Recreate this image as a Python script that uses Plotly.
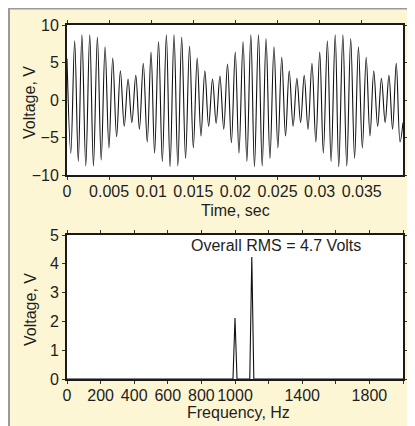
import plotly.graph_objects as go

# ---- data ----
time_s = [
    0.0, 0.00045, 0.00091, 0.00134, 0.00177, 0.00223, 0.00270, 0.00314, 0.00361, 0.00406,
    0.00452, 0.00498, 0.00543, 0.00589, 0.00634, 0.00680, 0.00725, 0.00770, 0.00817, 0.00860,
    0.00906, 0.00953,
    0.00998, 0.01040, 0.01087, 0.01132, 0.01180, 0.01224, 0.01271, 0.01316, 0.01362, 0.01408,
    0.01455, 0.01500, 0.01546, 0.01591, 0.01637, 0.01682, 0.01728, 0.01771, 0.01816, 0.01861,
    0.01906, 0.01952,
    0.01998, 0.02042, 0.02091, 0.02136, 0.02183, 0.02226, 0.02274, 0.02318, 0.02364, 0.02410,
    0.02458, 0.02504, 0.02550, 0.02595, 0.02639, 0.02685, 0.02730, 0.02774, 0.02817, 0.02862,
    0.02909, 0.02955,
    0.03001, 0.03044, 0.03092, 0.03136, 0.03185, 0.03227, 0.03276, 0.03322, 0.03369, 0.03415,
    0.03461, 0.03507, 0.03553, 0.03598, 0.03643, 0.03689, 0.03734, 0.03778, 0.03823, 0.03866,
    0.03910, 0.03955, 0.03990,
]
voltage_v = [
    5.5, -7.1, 7.9, -8.2, 8.7, -8.8, 8.7, -8.8, 8.4, -8.0,
    7.1, -6.4, 5.6, -4.9, 3.9, -3.5, 2.8, -3.0, 3.3, -3.9,
    4.9, -5.6,
    6.4, -7.1, 7.8, -8.2, 8.7, -8.9, 8.7, -8.8, 8.4, -7.8,
    7.2, -6.4, 5.6, -4.8, 3.9, -3.5, 2.8, -3.1, 3.2, -3.9,
    4.8, -5.7,
    6.4, -7.1, 7.8, -8.2, 8.7, -8.9, 8.7, -8.8, 8.2, -7.8,
    7.1, -6.4, 5.7, -4.8, 3.9, -3.5, 2.9, -3.0, 3.3, -3.9,
    4.9, -5.6,
    6.4, -7.1, 7.9, -8.2, 8.7, -8.9, 8.7, -8.8, 8.2, -7.8,
    7.1, -6.4, 5.7, -4.8, 3.9, -3.5, 2.9, -3.0, 3.3, -3.9,
    4.9, -5.6, -3.0,
]

freq_hz = [0, 988, 1000, 1012, 1088, 1100, 1112, 2000]
spectrum_v = [0, 0, 2.12, 0, 0, 4.24, 0, 0]

time_ticks = [0, 0.005, 0.01, 0.015, 0.02, 0.025, 0.03, 0.035]
time_ticktext = ["0", "0.005", "0.01", "0.015", "0.02", "0.025", "0.03", "0.035"]
freq_ticks = [0, 200, 400, 600, 800, 1000, 1200, 1400, 1600, 1800, 2000]
freq_ticktext = ["0", "200", "400", "600", "800", "1000", "", "1400", "", "1800", ""]
volt_ticks_top = [-10, -5, 0, 5, 10]
volt_ticks_bottom = [0, 1, 2, 3, 4, 5]
rms_text = "Overall RMS = 4.7 Volts"
x_title_top = "Time, sec"
x_title_bottom = "Frequency, Hz"
y_title = "Voltage, V"

FONT = "Liberation Sans, Arial, sans-serif"
TXT = "#1e1e1e"
BEIGE = "#FDF6D4"
# the page body adds an 8px offset; the figure fills the rest of the window
W, H = 407, 418
ML, MR, MT, MB = 59, 12, 17, 47
PW, PH = W - ML - MR, H - MT - MB


def fx(px):
    return (px - ML) / PW


def fy(py):
    return (H - MB - py) / PH


fig = go.Figure()
fig.add_trace(go.Scatter(
    x=time_s, y=voltage_v, mode="lines",
    line=dict(color="#111111", width=1.1, shape="spline", smoothing=1.0),
    xaxis="x", yaxis="y", showlegend=False, hoverinfo="skip"))
fig.add_trace(go.Scatter(
    x=freq_hz, y=spectrum_v, mode="lines",
    line=dict(color="#111111", width=1.1),
    xaxis="x2", yaxis="y2", showlegend=False, hoverinfo="skip"))

axis_common = dict(
    showline=True, linecolor="#1a1a1a", linewidth=2, mirror="ticks",
    ticks="outside", ticklen=3, tickwidth=1, tickcolor="#333333",
    showgrid=False, zeroline=False, automargin=False,
    tickfont=dict(family=FONT, size=16, color=TXT),
)


def title_ann(text, px, py, angle=0):
    return dict(text=text, x=fx(px), y=fy(py), xref="paper", yref="paper",
                showarrow=False, xanchor="center", yanchor="middle", textangle=angle,
                font=dict(family=FONT, size=16, color=TXT))


fig.update_layout(
    width=W, height=H,
    margin=dict(l=ML, r=MR, t=MT, b=MB, pad=0, autoexpand=False),
    paper_bgcolor=BEIGE, plot_bgcolor="white",
    font=dict(family=FONT, color=TXT),
    xaxis=dict(axis_common, domain=[0, 1], anchor="y", range=[0, 0.0399],
               tickvals=time_ticks, ticktext=time_ticktext, ticklabelstandoff=-2),
    yaxis=dict(axis_common, domain=[fy(167), 1], anchor="x", range=[-10, 10],
               tickvals=volt_ticks_top),
    xaxis2=dict(axis_common, domain=[0, 1], anchor="y2", range=[0, 2000],
                tickvals=freq_ticks, ticktext=freq_ticktext, ticklabelstandoff=-2),
    yaxis2=dict(axis_common, domain=[0, fy(227)], anchor="x2", range=[0, 5],
                tickvals=volt_ticks_bottom),
    annotations=[
        dict(text=rms_text, x=1246, y=4.62, xref="x2", yref="y2",
             showarrow=False, xanchor="center", yanchor="middle",
             font=dict(family=FONT, size=16, color=TXT)),
        title_ann(x_title_top, 227, 202),
        title_ann(x_title_bottom, 230, 404),
        title_ann(y_title, 22, 95, -90),
        title_ann(y_title, 22, 302, -90),
    ],
    shapes=[
        dict(type="line", xref="paper", yref="paper", x0=fx(0), x1=fx(W + 5), y0=fy(0.5), y1=fy(0.5),
             line=dict(color="#9a9a9a", width=2), layer="above"),
        dict(type="line", xref="paper", yref="paper", x0=fx(1), x1=fx(1), y0=fy(H + 5), y1=fy(0),
             line=dict(color="#9a9a9a", width=2), layer="above"),
    ],
)

fig.write_html("out.html")
